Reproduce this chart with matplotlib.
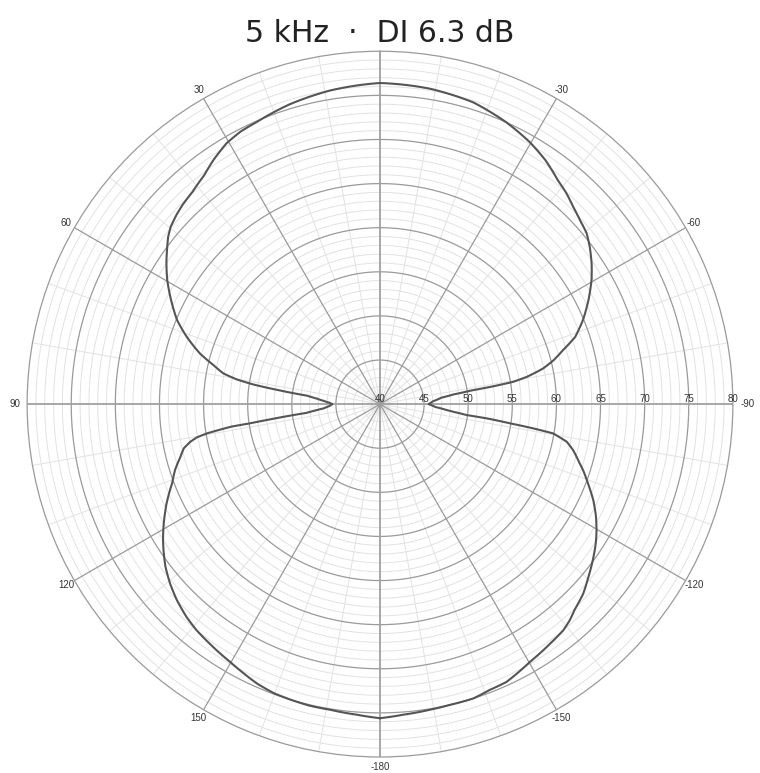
import numpy as np
import matplotlib
matplotlib.use("Agg")
import matplotlib.pyplot as plt

# Polar response at 5 kHz (angle in degrees, level in dB)
angles = [-180, -175.7, -170.7, -166.9, -162.4, -159, -155.5, -149.8, -144.6, -141,
          -138.7, -136.6, -133, -129.7, -126.2, -122.8, -120.2, -117.5, -114.2, -110.8,
          -108, -106.5, -103.4, -101.4, -99.6, -99, -98.4, -97.6, -97.2, -96,
          -95.1, -93, -90, -87, -84, -82.5, -81.5, -81.1, -80.5, -79.5,
          -77.7, -75.8, -73.6, -71, -67.5, -63.5, -59.6, -56.4, -53.2, -50.4,
          -47.4, -44.4, -41.5, -38.5, -34.2, -29.8, -24.2, -17.2, -9,
          0, 9, 16.7, 23.6, 27.1, 30.5, 34.3, 37.6, 41.5, 44.7, 47.1, 49.7,
          51.7, 53.5, 56.6, 59.8, 62.9, 67.5, 70.8, 74.3, 76.8, 78.9,
          80.2, 81.2, 82.2, 83.4, 85, 86.7, 88.5, 90, 92, 94.3,
          95.4, 96.8, 97.2, 97.9, 98.4, 98.6, 99.6, 100.3, 101.2, 102.7,
          104.8, 107.8, 110.8, 115, 119.5, 122, 124, 127.1, 130.5, 134,
          137.7, 140.9, 144.4, 149.8, 153.1, 156.2, 159.8, 163.1, 166.9, 170.7,
          175.7, 180]
levels = [75.6, 75.3, 75.1, 75.0, 75.0, 74.7, 74.6, 73.8, 73.3, 73.0,
          72.6, 72.1, 71.5, 70.7, 69.9, 69.1, 68.4, 67.6, 66.5, 65.2,
          64.2, 63.6, 62.5, 61.6, 59.9, 57.6, 54.9, 52.2, 49.9, 48.4,
          47.6, 46.3, 45.5, 46.0, 47.0, 48.4, 50.5, 52.8, 55.3, 56.9,
          58.9, 60.3, 61.6, 63.4, 64.9, 66.4, 67.8, 68.8, 69.7, 70.4,
          70.8, 71.3, 71.9, 72.4, 73.4, 74.2, 75.0, 75.8, 76.2,
          76.4, 76.0, 75.5, 74.9, 74.7, 74.3, 73.5, 72.7, 72.1, 71.8, 71.5, 71.1,
          70.6, 70.0, 69.0, 67.9, 66.7, 64.9, 63.2, 61.2, 59.4, 58.1,
          56.5, 54.5, 51.5, 48.3, 47.2, 46.4, 45.7, 45.4, 45.7, 46.4,
          47.2, 48.4, 49.9, 52.6, 54.9, 57.0, 59.9, 61.1, 61.9, 62.8,
          63.4, 64.4, 65.2, 66.7, 68.2, 69.0, 69.6, 70.5, 71.3, 72.0,
          72.6, 73.0, 73.3, 73.8, 74.2, 74.6, 74.9, 75.0, 75.1, 75.1,
          75.3, 75.6]

r_min, r_max = 40, 80
ring_labels = [40, 45, 50, 55, 60, 65, 70, 75, 80]
angle_labels = [30, 60, 90, 120, 150, 180, -150, -120, -90, -60, -30]
angle_texts = ["30", "60", "90", "120", "150", "-180", "-150", "-120", "-90", "-60", "-30"]

fig = plt.figure(figsize=(7.6, 7.73), dpi=100)
ax = fig.add_axes([0.0355, 0.0207, 0.929, 0.913], projection="polar")
ax.set_theta_zero_location("N")
ax.set_theta_direction(1)
ax.set_ylim(r_min, r_max)
ax.grid(False)
ax.set_xticks([])
ax.set_yticks([])
ax.spines["polar"].set_color("#9a9a9a")
ax.spines["polar"].set_linewidth(0.9)

# grid: minor rings every 1 dB, major every 5 dB
full = np.linspace(0, 2 * np.pi, 721)
for r in range(r_min + 1, r_max):
    if r % 5 == 0:
        ax.plot(full, np.full_like(full, r), color="#9a9a9a", lw=0.9, zorder=2)
    else:
        ax.plot(full, np.full_like(full, r), color="#e2e2e2", lw=0.7, zorder=1)

# spokes: minor every 10 deg, major every 30 deg
for a in range(0, 360, 10):
    th = np.deg2rad(a)
    if a % 90 == 0:
        ax.plot([th, th], [r_min, r_max], color="#a0a0a0", lw=1.3, zorder=2)
    elif a % 30 == 0:
        ax.plot([th, th], [r_min, r_max], color="#9a9a9a", lw=0.9, zorder=2)
    else:
        ax.plot([th, th], [r_min, r_max], color="#e2e2e2", lw=0.7, zorder=1)

# response curve (segments follow arcs in polar space)
th = np.deg2rad(np.array(angles))
curve, = ax.plot(th, levels, color="#555555", lw=1.5, zorder=5,
                 solid_joinstyle="round")
curve.get_path()._interpolation_steps = 12

# angle labels
for a, t in zip(angle_labels, angle_texts):
    if a == 90:
        ax.text(np.deg2rad(a), 80.8, t, ha="right", va="center", fontsize=7,
                family="Liberation Sans", color="#333333", clip_on=False)
    elif a == -90:
        ax.text(np.deg2rad(a), 80.9, t, ha="left", va="center", fontsize=7,
                family="Liberation Sans", color="#333333", clip_on=False)
    else:
        ax.text(np.deg2rad(a), 81.1, t, ha="center", va="center", fontsize=7,
                family="Liberation Sans", color="#333333", clip_on=False)

# ring labels along the -90 axis
for r in ring_labels:
    ha = "right" if r == r_max else "center"
    ax.text(np.deg2rad(-90), r + (0.6 if r == r_max else 0), str(r), ha=ha, va="bottom",
            fontsize=7, family="Liberation Sans", color="#333333", zorder=6)

fig.text(0.5, 0.9453, "5 kHz  \u00b7  DI 6.3 dB", ha="center", va="baseline",
         fontsize=21.5, color="#222222", family="DejaVu Sans")

fig.savefig("out.png", dpi=100, facecolor="white")
